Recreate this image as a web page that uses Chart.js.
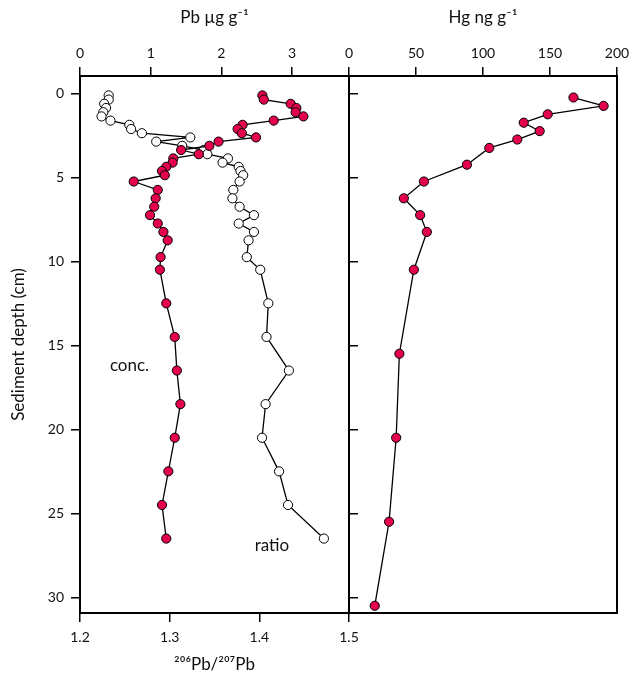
<!DOCTYPE html>
<html><head><meta charset="utf-8">
<script src="https://cdn.jsdelivr.net/npm/chart.js@4.4.1/dist/chart.umd.min.js"></script>
<style>html,body{margin:0;padding:0;background:#fff;overflow:hidden}
#c1{position:absolute;left:0;top:0}
#c2{position:absolute;left:340px;top:0}
</style></head><body>
<canvas id="c1" width="362" height="676"></canvas>
<canvas id="c2" width="291" height="676"></canvas>
<script>
// ---- data ----
const pbDepth = [0.125,0.375,0.625,0.875,1.125,1.375,1.625,1.875,2.125,2.375,2.625,2.875,3.125,3.375,3.625,3.875,4.125,4.375,4.625,4.875,5.25,5.75,6.25,6.75,7.25,7.75,8.25,8.75,9.75,10.5,12.5,14.5,16.5,18.5,20.5,22.5,24.5,26.5];
const pbConc = [2.58,2.60,2.98,3.06,3.05,3.16,2.74,2.30,2.23,2.29,2.49,1.96,1.83,1.43,1.68,1.32,1.31,1.22,1.16,1.20,0.76,1.10,1.07,1.05,0.99,1.10,1.18,1.24,1.14,1.13,1.22,1.34,1.37,1.42,1.34,1.25,1.16,1.22];
const pbRatio = [1.232,1.232,1.227,1.229,1.226,1.224,1.234,1.255,1.257,1.269,1.323,1.285,1.314,1.338,1.342,1.365,1.359,1.377,1.379,1.382,1.378,1.371,1.370,1.378,1.394,1.377,1.394,1.388,1.386,1.401,1.410,1.408,1.433,1.407,1.403,1.422,1.432,1.472];
const hgDepth = [0.25,0.75,1.25,1.75,2.25,2.75,3.25,4.25,5.25,6.25,7.25,8.25,10.5,15.5,20.5,25.5,30.5];
const hgConc = [167.5,190,148.3,130.4,142.3,125.6,104.7,88,55.9,40.9,53.1,58.1,48.4,37.6,35.2,29.9,19.2];
const depthTicks = [0,5,10,15,20,25,30];
const pbTicks = [0,1,2,3];
const ratioTicks = [1.2,1.3,1.4,1.5];
const hgTicks = [0,50,100,150,200];
const notes = [
  {text:'conc.', x:0.70, y:16.2, axis:'xp'},
  {text:'ratio', x:1.414, y:26.9, axis:'xr'}
];

// ---- styles ----
const RED = '#E2004F';
const FONT = 'Lato, "Open Sans", sans-serif';
const tickFont = {family: FONT, size: 14};
const titleFont = {family: FONT, size: 17, lineHeight: 1};
const DEPTH_MIN = -1.03, DEPTH_MAX = 30.93;

function setTicks(list){ return s => { s.ticks = list.map(v => ({value: v})); }; }
function fixW(w){ return s => { s.width = w; }; }
function fixH(h){ return s => { s.height = h; s.paddingLeft = 0; s.paddingRight = 0; }; }
const gridTicks = {display:true, drawOnChartArea:false, drawTicks:true, tickLength:9, color:'#000', lineWidth:1.5};
const border = {display:true, color:'#000', width:2};

const pts = (xs, ys) => xs.map((v,i) => ({x: v, y: ys[i]}));

const noteLabels = {
  id: 'noteLabels',
  afterDatasetsDraw(chart){
    const ctx = chart.ctx;
    ctx.save();
    ctx.font = '17px ' + FONT;
    ctx.fillStyle = '#111';
    ctx.textAlign = 'center';
    ctx.textBaseline = 'middle';
    notes.forEach(n => {
      const sx = chart.scales[n.axis], sy = chart.scales.y;
      if (!sx) return;
      ctx.fillText(n.text, sx.getPixelForValue(n.x), sy.getPixelForValue(n.y));
    });
    ctx.restore();
  }
};

const common = {
  responsive:false, animation:false,
  plugins:{legend:{display:false}, tooltip:{enabled:false}},
  layout:{padding:0}
};

new Chart(document.getElementById('c1'), {
  type:'scatter',
  data:{datasets:[
    {data: pts(pbConc, pbDepth), xAxisID:'xp', yAxisID:'y', showLine:true, order:0,
     borderColor:'#000', borderWidth:1.3, pointRadius:4.6, pointBackgroundColor:RED, pointBorderColor:'#000', pointBorderWidth:1},
    {data: pts(pbRatio, pbDepth), xAxisID:'xr', yAxisID:'y', showLine:true, order:1,
     borderColor:'#000', borderWidth:1.3, pointRadius:4.6, pointBackgroundColor:'#fff', pointBorderColor:'#000', pointBorderWidth:1}
  ]},
  options:Object.assign({}, common, {
    scales:{
      y:{position:'left', reverse:true, min:DEPTH_MIN, max:DEPTH_MAX,
         afterBuildTicks:setTicks(depthTicks), afterFit:fixW(80),
         grid:gridTicks, border:border,
         ticks:{font:tickFont, color:'#111', padding:7, callback:v=>String(v)},
         title:{display:true, text:'Sediment depth (cm)', font:titleFont, color:'#111', padding:{top:10,bottom:0}}},
      y2:{position:'right', reverse:true, min:DEPTH_MIN, max:DEPTH_MAX,
         afterBuildTicks:setTicks(depthTicks), afterFit:fixW(13),
         grid:gridTicks, border:border, ticks:{display:false}},
      xp:{type:'linear', position:'top', min:0, max:3.805,
         afterBuildTicks:setTicks(pbTicks), afterFit:fixH(76),
         grid:gridTicks, border:border,
         ticks:{font:tickFont, color:'#111', padding:5, maxRotation:0, callback:v=>String(v)},
         title:{display:true, text:'Pb \u00B5g g\u207B\u00B9', font:titleFont, color:'#111', padding:{top:9.5,bottom:0}}},
      xr:{type:'linear', position:'bottom', min:1.2, max:1.5,
         afterBuildTicks:setTicks(ratioTicks), afterFit:fixH(63),
         grid:gridTicks, border:border,
         ticks:{font:tickFont, color:'#111', padding:7, maxRotation:0, callback:v=>String(v)},
         title:{display:true, text:'\u00B2\u2070\u2076Pb/\u00B2\u2070\u2077Pb', font:titleFont, color:'#111', padding:{top:0,bottom:3}}}
    }
  }),
  plugins:[noteLabels]
});

new Chart(document.getElementById('c2'), {
  type:'scatter',
  data:{datasets:[
    {data: pts(hgConc, hgDepth), xAxisID:'xh', yAxisID:'y', showLine:true,
     borderColor:'#000', borderWidth:1.3, pointRadius:4.6, pointBackgroundColor:RED, pointBorderColor:'#000', pointBorderWidth:1}
  ]},
  options:Object.assign({}, common, {
    scales:{
      y:{position:'left', reverse:true, min:DEPTH_MIN, max:DEPTH_MAX,
         afterBuildTicks:setTicks(depthTicks), afterFit:fixW(9),
         grid:{display:false}, border:border, ticks:{display:false}},
      y2:{position:'right', reverse:true, min:DEPTH_MIN, max:DEPTH_MAX,
         afterFit:fixW(14), grid:{display:false}, border:border, ticks:{display:false}},
      xh:{type:'linear', position:'top', min:0, max:200,
         afterBuildTicks:setTicks(hgTicks), afterFit:fixH(76),
         grid:gridTicks, border:border,
         ticks:{font:tickFont, color:'#111', padding:5, maxRotation:0, callback:v=>String(v)},
         title:{display:true, text:'Hg ng g\u207B\u00B9', font:titleFont, color:'#111', padding:{top:9.5,bottom:0}}},
      xb:{type:'linear', position:'bottom', min:0, max:1, afterFit:fixH(63),
         grid:{display:false}, border:border, ticks:{display:false}}
    }
  })
});
</script>
</body></html>
